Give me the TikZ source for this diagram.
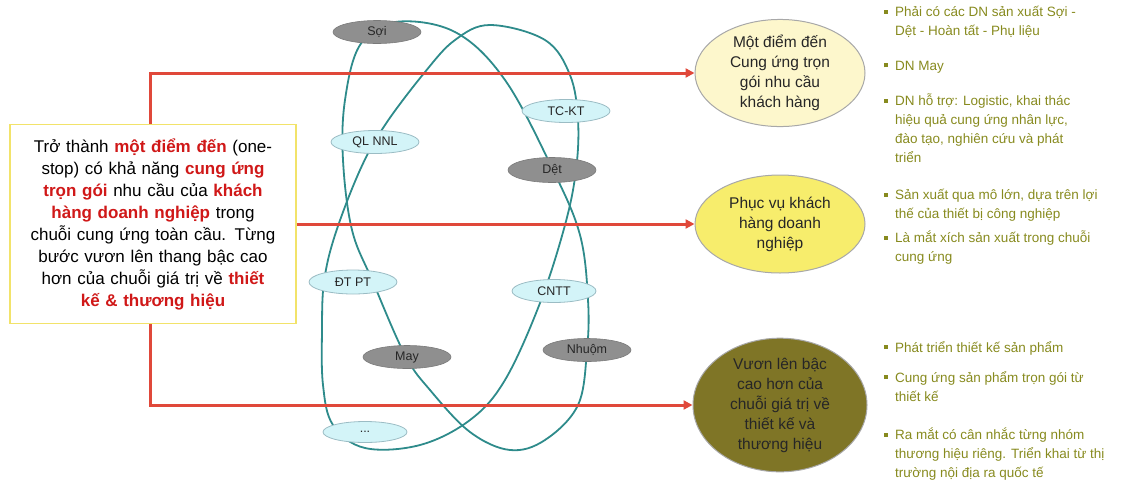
\documentclass[tikz,border=0pt]{standalone}
\usepackage{fontspec}
\setmainfont{Liberation Sans}
\usetikzlibrary{shapes.geometric,arrows.meta}
\definecolor{arrowred}{HTML}{E0483A}
\definecolor{redtext}{HTML}{D01818}
\definecolor{boxyellow}{HTML}{F2E36A}
\definecolor{loopteal}{HTML}{2E8B8B}
\definecolor{nodegray}{HTML}{8F8F8F}
\definecolor{graybd}{HTML}{7A7A7A}
\definecolor{nodecyan}{HTML}{D3F4F8}
\definecolor{cyanbd}{HTML}{9BBCC4}
\definecolor{paleyellow}{HTML}{FDF7CC}
\definecolor{midyellow}{HTML}{F7ED6C}
\definecolor{olivefill}{HTML}{7F7526}
\definecolor{olivetext}{HTML}{878A1E}
\definecolor{ellbd}{HTML}{A8A8A8}
\newcommand{\hlr}[1]{\textcolor{redtext}{\textbf{#1}}}
\newcommand{\bsq}{\llap{\textcolor{olivetext}{\rule[3pt]{4pt}{4pt}}\hspace{7pt}}}
\begin{document}
\begin{tikzpicture}[x=1pt,y=-1pt,
  >={Triangle[length=9pt,width=9pt]},
  loopline/.style={draw=loopteal, line width=1.8pt},
  redline/.style={draw=arrowred, line width=3pt},
  small/.style={ellipse, inner sep=0pt, minimum width=88pt, minimum height=23pt, font=\fontsize{12.5}{14}\selectfont, text=black!85},
  grayell/.style={small, fill=nodegray, draw=graybd, line width=0.6pt},
  cyanell/.style={small, fill=nodecyan, draw=cyanbd, line width=0.8pt},
  bigell/.style={ellipse, inner sep=0pt, draw=ellbd, line width=1pt, align=center, text=black!85, font=\fontsize{15.5}{20}\selectfont},
  item/.style={anchor=north west, inner sep=0pt, align=left, text=olivetext, font=\fontsize{13.5}{19}\selectfont}
]
\useasboundingbox (0,0) rectangle (1148,488);

% two interlaced loops
\draw[loopline] plot[smooth cycle, tension=0.6] coordinates {
  (395,22) (455,32) (505,80) (553,170) (580,235) (588,300) (587,350)
  (578,405) (545,440) (510,450) (470,432) (430,390) (405,355)
  (373,282) (352,230) (343,160) (345,100) (360,45)};
\draw[loopline] plot[smooth cycle, tension=0.6] coordinates {
  (490,25) (545,40) (570,75) (578,120) (576,170) (565,225) (540,303)
  (505,380) (470,420) (420,445) (365,448) (333,425) (323,385) (322,330)
  (324,282) (335,235) (360,170) (385,125) (425,72) (455,40)};

% right ellipses
\node[bigell, fill=paleyellow, minimum width=170pt, minimum height=95pt] (e1) at (780,73)
  {Một điểm đến\\Cung ứng trọn\\gói nhu cầu\\khách hàng};
\node[bigell, fill=midyellow, minimum width=170pt, minimum height=98pt] (e2) at (780,224)
  {Phục vụ khách\\hàng doanh\\nghiệp};
\node[bigell, fill=olivefill, minimum width=174pt, minimum height=115pt] (e3) at (780,405)
  {Vươn lên bậc\\cao hơn của\\chuỗi giá trị về\\thiết kế và\\thương hiệu};

% red connectors
\coordinate (ctop) at (150,73);
\coordinate (cbot) at (150,405);
\draw[redline, line join=miter, <->] (e1.west) -- (ctop) -- (cbot) -- (e3.west);

% left box
\node[draw=boxyellow, line width=1.6pt, fill=white, minimum width=286pt, minimum height=199pt,
      text width=272pt, align=center, inner sep=0pt, font=\fontsize{17}{22}\selectfont] (box) at (153,224)
  {Trở thành \hlr{một điểm đến} (one-\\
   stop) có khả năng \hlr{cung ứng}\\
   \hlr{trọn gói} nhu cầu của \hlr{khách}\\
   \hlr{hàng doanh nghiệp} trong\\
   chuỗi cung ứng toàn cầu. Từng\\
   bước vươn lên thang bậc cao\\
   hơn của chuỗi giá trị về \hlr{thiết}\\
   \hlr{kế \& thương hiệu}};
\draw[redline, ->] (box.east) -- (e2.west);

% small ellipses on loops
\node[grayell] (soi) at (377,32) {Sợi};
\node[cyanell] (qlnnl) at (375,142) {QL NNL};
\node[cyanell] (tckt) at (566,111) {TC-KT};
\node[grayell, minimum height=25pt] (det) at (552,170) {Dệt};
\node[cyanell, minimum height=24pt] (dtpt) at (353,282) {ĐT PT};
\node[cyanell, minimum width=84pt] (cntt) at (554,291) {CNTT};
\node[grayell] (may) at (407,357) {May};
\node[grayell] (nhuom) at (587,350) {Nhuộm};
\node[cyanell, minimum width=84pt, minimum height=21pt] (dots) at (365,432) {...};

% bullet lists
\node[item] (i1) at (895,6) {\bsq Phải có các DN sản xuất Sợi -\\Dệt - Hoàn tất - Phụ liệu};
\node[item] (i2) at (895,61) {\bsq DN May};
\node[item] (i3) at (895,94) {\bsq DN hỗ trợ: Logistic, khai thác\\hiệu quả cung ứng nhân lực,\\đào tạo, nghiên cứu và phát\\triển};
\node[item] (i4) at (895,189) {\bsq Sản xuất qua mô lớn, dựa trên lợi\\thế của thiết bị công nghiệp};
\node[item] (i5) at (895,231) {\bsq Là mắt xích sản xuất trong chuỗi\\cung ứng};
\node[item] (i6) at (895,341) {\bsq Phát triển thiết kế sản phẩm};
\node[item] (i7) at (895,371) {\bsq Cung ứng sản phẩm trọn gói từ\\thiết kế};
\node[item] (i8) at (895,428) {\bsq Ra mắt có cân nhắc từng nhóm\\thương hiệu riêng. Triển khai từ thị\\trường nội địa ra quốc tế};
\end{tikzpicture}
\end{document}
